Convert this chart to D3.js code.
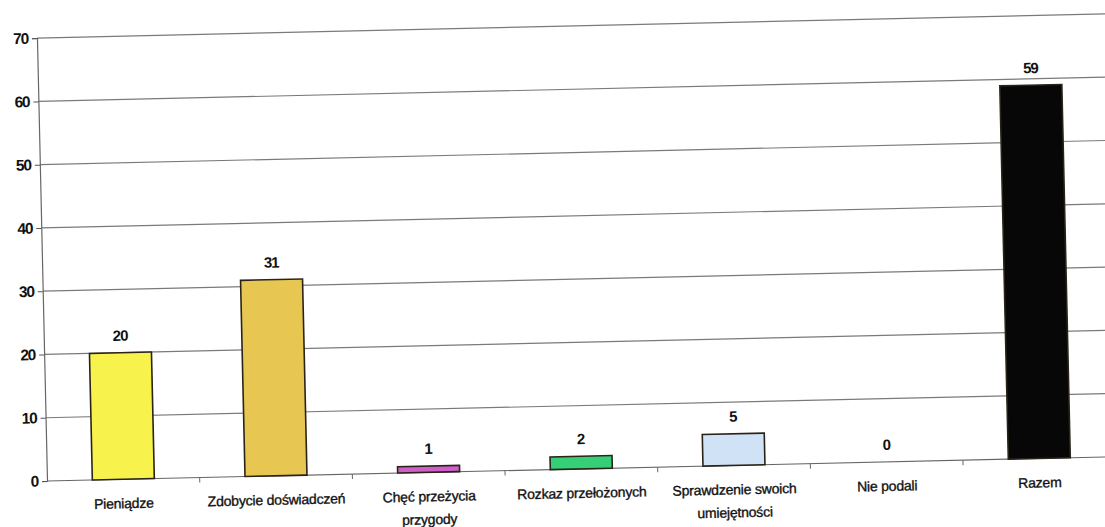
<!DOCTYPE html>
<html>
<head>
<meta charset="utf-8">
<script src="https://cdn.jsdelivr.net/npm/d3@7"></script>
<style>
  body { margin: 0; background: #fff; }
  text { font-family: Arial, "Liberation Sans", sans-serif; fill: #111; }
</style>
</head>
<body>
<svg id="chart"></svg>
<script>
// values
const categories = [
  'Pieniądze',
  'Zdobycie doświadczeń',
  'Chęć przeżycia\nprzygody',
  'Rozkaz przełożonych',
  'Sprawdzenie swoich\numiejętności',
  'Nie podali',
  'Razem'
];
const values = [20, 31, 1, 2, 5, 0, 59];
const barColors = ['#f8f24c', '#e7c652', '#cf5ec9', '#35cf78', '#cfe2f6', '#ffffff', '#070707'];
const yTicks = [0, 10, 20, 30, 40, 50, 60, 70];

const width = 1105, height = 527;
const origin = { x: 47, y: 481 };
const step = 152.7;

const data = categories.map((c, i) => ({ cat: c, value: values[i], color: barColors[i] }));

const svg = d3.select('#chart')
  .attr('width', width)
  .attr('height', height);

svg.append('rect').attr('width', width).attr('height', height).attr('fill', '#fff');

// the scan is tilted a little, so the whole plot is rotated about the origin
const g = svg.append('g')
  .attr('transform', `rotate(-1.3, ${origin.x}, ${origin.y})`);

const x = d3.scaleBand()
  .domain(categories)
  .range([origin.x, origin.x + step * categories.length])
  .paddingInner(0.594)
  .paddingOuter(0.297);

const y = d3.scaleLinear()
  .domain([0, 70])
  .range([origin.y, 38]);

// gridlines
g.append('g')
  .selectAll('line')
  .data(yTicks.filter(d => d > 0))
  .join('line')
  .attr('x1', origin.x)
  .attr('x2', origin.x + step * categories.length)
  .attr('y1', d => y(d))
  .attr('y2', d => y(d))
  .attr('stroke', '#7a7a7a')
  .attr('stroke-width', 1.2);

// y axis
const yAxis = g.append('g')
  .attr('transform', `translate(${origin.x},0)`)
  .call(d3.axisLeft(y).tickValues(yTicks).tickSize(5).tickPadding(4));
yAxis.select('.domain').attr('stroke', '#666').attr('stroke-width', 1.2);
yAxis.selectAll('.tick line').attr('stroke', '#555');
yAxis.selectAll('.tick text')
  .style('font-family', 'Arial, "Liberation Sans", sans-serif')
  .style('font-size', '15.5px')
  .style('font-weight', 'bold')
  .style('letter-spacing', '-1.2px')
  .attr('fill', '#111');

// x axis line + boundary ticks
g.append('line')
  .attr('x1', origin.x)
  .attr('x2', origin.x + step * categories.length)
  .attr('y1', y(0))
  .attr('y2', y(0))
  .attr('stroke', '#666')
  .attr('stroke-width', 1.2);

g.append('g')
  .selectAll('line')
  .data(categories.slice(1))
  .join('line')
  .attr('x1', d => x(d) - x.step() * x.paddingInner() / 2)
  .attr('x2', d => x(d) - x.step() * x.paddingInner() / 2)
  .attr('y1', y(0))
  .attr('y2', y(0) + 5)
  .attr('stroke', '#666');

// bars (a zero value draws nothing)
g.append('g')
  .selectAll('rect')
  .data(data.filter(d => d.value > 0))
  .join('rect')
  .attr('x', d => x(d.cat))
  .attr('y', d => y(d.value))
  .attr('width', x.bandwidth())
  .attr('height', d => y(0) - y(d.value))
  .attr('fill', d => d.color)
  .attr('stroke', '#2a2418')
  .attr('stroke-width', 1.6);

// value labels
g.append('g')
  .selectAll('text')
  .data(data)
  .join('text')
  .attr('x', d => x(d.cat) + x.bandwidth() / 2)
  .attr('y', d => y(d.value) - 12)
  .attr('text-anchor', 'middle')
  .style('font-size', '15px')
  .style('font-weight', 'bold')
  .style('letter-spacing', '-1px')
  .text(d => d.value);

// category labels
const labels = g.append('g')
  .selectAll('text')
  .data(categories)
  .join('text')
  .attr('x', d => x(d) + x.bandwidth() / 2)
  .attr('y', y(0) + 29)
  .attr('text-anchor', 'middle')
  .attr('stroke', '#111')
  .attr('stroke-width', 0.35)
  .style('font-size', '14px')
  .style('letter-spacing', '-0.2px');

labels.selectAll('tspan')
  .data(d => d.split('\n'))
  .join('tspan')
  .attr('x', function () { return d3.select(this.parentNode).attr('x'); })
  .attr('dy', (d, i) => i === 0 ? 0 : 23)
  .text(d => d);
</script>
</body>
</html>
